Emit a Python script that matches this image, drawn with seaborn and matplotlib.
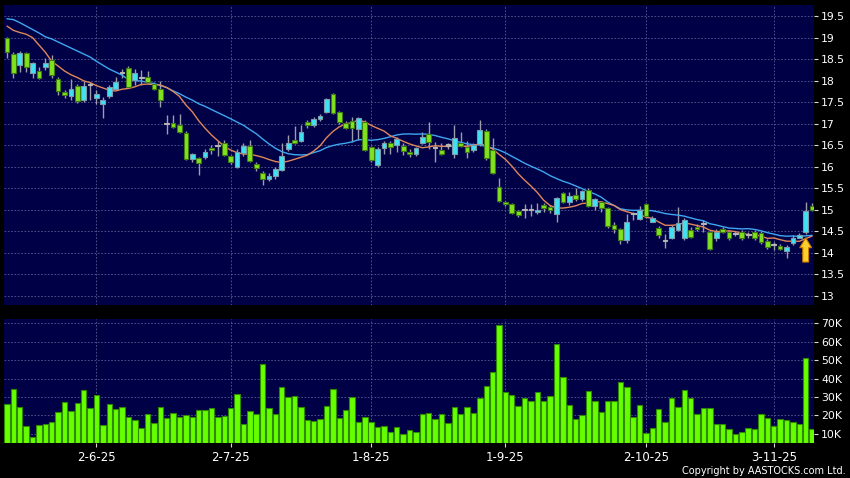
import numpy as np
import pandas as pd
import matplotlib
matplotlib.use("Agg")
import matplotlib.pyplot as plt
import seaborn as sns

# HK trading days shown on the chart
holidays = ["2025-07-01", "2025-10-01", "2025-10-07", "2025-10-29"]
dates = pd.bdate_range("2025-05-13", "2025-11-11", freq="C", holidays=holidays)

open_ = [19.00, 18.61, 18.36, 18.65, 18.17, 18.23, 18.32, 18.49, 18.03, 17.73,
         17.65, 17.88, 17.55, 17.90, 17.60, 17.45, 17.65, 17.80, 18.17, 18.30,
         18.01, 18.07, 18.09, 17.92, 17.80, 17.00, 17.01, 16.96, 16.79, 16.17,
         16.19, 16.22, 16.43, 16.47, 16.56, 16.25, 16.00, 16.31, 16.49, 16.05,
         15.86, 15.70, 15.78, 15.93, 16.40, 16.63, 16.60, 17.04, 16.97, 17.10,
         17.28, 17.70, 17.28, 17.01, 17.06, 16.87, 17.03, 16.45, 16.04, 16.43,
         16.55, 16.50, 16.49, 16.35, 16.29, 16.56, 16.75, 16.43, 16.39, 16.49,
         16.29, 16.56, 16.46, 16.39, 16.52, 16.83, 16.39, 15.53, 15.18, 15.12,
         14.97, 14.99, 14.99, 14.94, 15.11, 15.05, 14.90, 15.38, 15.18, 15.35,
         15.25, 15.46, 15.09, 15.17, 15.03, 14.64, 14.54, 14.29, 14.89, 14.78,
         15.12, 14.72, 14.57, 14.27, 14.35, 14.53, 14.33, 14.53, 14.60, 14.66,
         14.47, 14.33, 14.55, 14.47, 14.43, 14.47, 14.41, 14.47, 14.45, 14.28,
         14.18, 14.16, 14.04, 14.22, 14.35, 14.47, 15.09]
high = [19.02, 18.67, 18.69, 18.67, 18.44, 18.32, 18.52, 18.59, 18.09, 17.78,
        18.03, 17.93, 17.99, 17.97, 17.78, 17.62, 17.90, 18.09, 18.28, 18.35,
        18.28, 18.25, 18.23, 17.97, 17.99, 17.20, 17.20, 17.22, 16.84, 16.31,
        16.22, 16.40, 16.50, 16.59, 16.62, 16.27, 16.40, 16.55, 16.62, 16.10,
        15.90, 15.85, 15.98, 16.55, 16.74, 16.95, 16.97, 17.08, 17.15, 17.22,
        17.60, 17.72, 17.30, 17.05, 17.15, 17.15, 17.08, 16.48, 16.45, 16.60,
        16.60, 16.70, 16.55, 16.40, 16.46, 16.80, 17.03, 16.58, 16.54, 16.55,
        16.96, 16.80, 16.60, 16.55, 17.08, 16.87, 16.67, 15.73, 15.20, 15.15,
        15.00, 15.12, 15.12, 15.15, 15.15, 15.10, 15.30, 15.42, 15.40, 15.50,
        15.45, 15.51, 15.28, 15.20, 15.05, 14.70, 14.58, 14.89, 14.95, 15.08,
        15.15, 14.86, 14.62, 14.43, 14.65, 15.05, 14.80, 14.60, 14.66, 14.75,
        14.50, 14.55, 14.60, 14.52, 14.50, 14.52, 14.48, 14.52, 14.50, 14.32,
        14.25, 14.20, 14.18, 14.40, 14.45, 15.18, 15.15]
low = [18.52, 18.07, 18.21, 18.21, 18.05, 18.04, 18.25, 18.05, 17.66, 17.60,
       17.55, 17.47, 17.51, 17.55, 17.45, 17.14, 17.59, 17.78, 18.05, 17.84,
       17.90, 17.90, 17.95, 17.78, 17.38, 16.77, 16.90, 16.78, 16.15, 16.11,
       15.80, 16.18, 16.30, 16.25, 16.25, 16.05, 15.96, 16.25, 16.10, 15.90,
       15.57, 15.66, 15.72, 15.90, 16.36, 16.52, 16.57, 16.90, 16.92, 17.05,
       17.25, 17.22, 17.00, 16.88, 16.58, 16.62, 16.36, 16.10, 15.98, 16.30,
       16.30, 16.35, 16.28, 16.22, 16.25, 16.52, 16.40, 16.10, 16.27, 16.40,
       16.20, 16.46, 16.20, 16.35, 16.48, 16.15, 15.82, 15.18, 15.08, 14.90,
       14.83, 14.80, 14.85, 14.90, 14.95, 14.92, 14.72, 15.15, 15.10, 15.20,
       15.20, 15.05, 15.00, 14.95, 14.58, 14.45, 14.21, 14.22, 14.75, 14.75,
       14.80, 14.70, 14.33, 14.10, 14.32, 14.50, 14.30, 14.33, 14.50, 14.48,
       14.07, 14.28, 14.45, 14.30, 14.38, 14.30, 14.35, 14.30, 14.20, 14.08,
       14.05, 14.05, 13.87, 14.18, 14.33, 14.44, 14.97]
close = [18.67, 18.17, 18.65, 18.32, 18.40, 18.07, 18.40, 18.14, 17.76, 17.67,
         17.80, 17.52, 17.88, 17.90, 17.69, 17.55, 17.86, 17.96, 18.17, 17.86,
         18.17, 18.07, 17.97, 17.80, 17.55, 17.00, 16.93, 16.81, 16.17, 16.29,
         16.08, 16.33, 16.39, 16.47, 16.27, 16.11, 16.33, 16.49, 16.13, 15.96,
         15.70, 15.79, 15.94, 16.24, 16.56, 16.56, 16.80, 16.97, 17.10, 17.18,
         17.57, 17.25, 17.03, 16.90, 16.90, 17.12, 16.39, 16.15, 16.42, 16.55,
         16.46, 16.64, 16.36, 16.29, 16.43, 16.70, 16.58, 16.43, 16.29, 16.49,
         16.66, 16.49, 16.35, 16.50, 16.85, 16.19, 15.84, 15.20, 15.12, 14.93,
         14.88, 14.99, 14.99, 14.99, 15.03, 14.98, 15.26, 15.18, 15.32, 15.25,
         15.43, 15.09, 15.24, 15.03, 14.61, 14.55, 14.29, 14.70, 14.89, 14.99,
         14.84, 14.81, 14.40, 14.27, 14.60, 14.69, 14.76, 14.37, 14.55, 14.66,
         14.09, 14.49, 14.49, 14.35, 14.43, 14.33, 14.41, 14.35, 14.25, 14.12,
         14.18, 14.09, 14.14, 14.35, 14.40, 14.96, 14.99]
volume_k = [26.3, 34.6, 24.5, 14.2, 8.0, 14.7, 15.3, 16.5, 21.6, 27.2,
            22.3, 26.5, 33.9, 24.1, 31.0, 14.9, 26.1, 23.4, 24.8, 18.9,
            17.3, 13.3, 20.7, 16.0, 24.3, 18.7, 21.2, 19.2, 20.3, 19.2,
            23.0, 22.7, 23.8, 19.2, 19.6, 23.8, 31.7, 15.4, 22.3, 20.9,
            47.8, 23.9, 21.0, 35.3, 30.1, 30.6, 24.7, 17.4, 17.1, 18.0,
            25.0, 34.4, 18.7, 23.0, 30.1, 16.2, 19.1, 16.2, 13.8, 14.2,
            11.1, 13.5, 10.0, 12.2, 11.1, 20.7, 21.2, 17.8, 20.7, 16.0,
            24.5, 20.9, 24.7, 21.4, 29.5, 36.0, 43.5, 69.1, 32.8, 31.2,
            25.0, 29.4, 27.9, 32.6, 27.6, 30.6, 58.8, 40.9, 25.7, 18.0,
            20.1, 33.3, 28.1, 22.1, 27.6, 27.9, 38.0, 35.5, 18.9, 25.4,
            10.4, 13.3, 23.4, 16.2, 29.2, 24.3, 33.7, 29.4, 20.9, 24.1,
            24.1, 15.1, 15.4, 12.4, 9.8, 10.9, 13.1, 12.6, 20.7, 18.5,
            14.0, 18.3, 17.4, 16.2, 15.1, 51.0, 12.6]

# moving averages at the left edge (they start before the first shown bar)
ma10_head = [19.27, 19.17, 19.12, 19.08, 19.00, 18.83, 18.66, 18.45, 18.34]
ma20_head = [19.44, 19.42, 19.35, 19.27, 19.19, 19.11, 19.02, 18.97, 18.90, 18.83,
             18.76, 18.69, 18.62, 18.55, 18.45, 18.36, 18.27, 18.20, 18.13]
signal_date = "2025-11-10"

df = pd.DataFrame({"date": dates, "open": open_, "high": high, "low": low,
                   "close": close, "volume_k": volume_k})
df["x"] = np.arange(len(df))
ma10 = df["close"].rolling(10).mean().to_numpy()
ma10[:9] = ma10_head
ma20 = df["close"].rolling(20).mean().to_numpy()
ma20[:19] = ma20_head

sns.set_style("dark", {"axes.facecolor": "#000046", "figure.facecolor": "black"})
plt.rcParams["font.family"] = ["DejaVu Sans"]

fig = plt.figure(figsize=(8.5, 4.78), dpi=100)
fig.patch.set_facecolor("black")
ax_p = fig.add_axes([4 / 850, 173 / 478, 810 / 850, 300 / 478])
ax_v = fig.add_axes([4 / 850, 35 / 478, 810 / 850, 124 / 478])

grid_kw = dict(color="#5a5a94", ls=(0, (2, 2)), lw=0.6)
month_start = [i for i in range(1, len(df)) if df.date[i].month != df.date[i - 1].month]
month_lbl = [f"{df.date[i].day}-{df.date[i].month}-{df.date[i].year % 100}" for i in month_start]

# price panel
sns.lineplot(x=df["x"], y=ma20, ax=ax_p, color="#3fa6f0", lw=1.0, zorder=2.5)
sns.lineplot(x=df["x"], y=ma10, ax=ax_p, color="#e0875a", lw=1.0, zorder=2.6)
ax_p.vlines(df["x"], df["low"], df["high"], color="#9c9caa", lw=1, zorder=2)
up = df["close"] > df["open"]
down = df["close"] < df["open"]
flat = ~(up | down)
body = (df["close"] - df["open"]).abs().clip(lower=0.025)
bottom = df[["open", "close"]].min(axis=1)
for mask, fc, ec in [(up, "#40e2f2", "#7c9cac"), (down, "#80e21e", "#3e7c12"),
                     (flat, "#b4b4b4", "#b4b4b4")]:
    ax_p.bar(df["x"][mask], body[mask], bottom=bottom[mask], width=0.74,
             color=fc, edgecolor=ec, lw=0.8, zorder=3)

sig = df.index[df["date"] == pd.Timestamp(signal_date)][0]
tip = df["low"][sig] - 0.1
ax_p.annotate("", xy=(sig, tip), xytext=(sig, tip - 0.56),
              arrowprops=dict(arrowstyle="simple,head_length=0.7,head_width=0.85,tail_width=0.42",
                              fc="#ffd02a", ec="#c87a00", lw=0.8, mutation_scale=10,
                              shrinkA=0, shrinkB=0), zorder=5)

ax_p.set_xlim(-0.47, 126.3)
ax_p.set_ylim(12.78, 19.76)
yt = np.arange(13, 19.51, 0.5)
ax_p.set_yticks(yt)
ax_p.set_yticklabels([f"{v:g}" for v in yt])
ax_p.set_xticks(month_start)
ax_p.grid(True, **grid_kw)
ax_p.yaxis.tick_right()
ax_p.tick_params(axis="y", colors="#d8d8d8", labelcolor="white", labelsize=7.8,
                 length=3, width=0.8, pad=2)
ax_p.tick_params(axis="x", length=0, labelbottom=False)
ax_p.set_xlabel("")
ax_p.set_ylabel("")

# volume panel
sns.barplot(x=df["x"], y=df["volume_k"], ax=ax_v, native_scale=True, errorbar=None,
            color="#66ff00", edgecolor="#2f8a00", linewidth=0.8, saturation=1, width=0.85)
ax_v.set_xlim(-0.47, 126.3)
ax_v.set_ylim(5, 72.4)
vt = np.arange(10, 71, 10)
ax_v.set_yticks(vt)
ax_v.set_yticklabels([f"{v}K" for v in vt])
ax_v.set_xticks(month_start)
ax_v.set_xticklabels(month_lbl)
ax_v.grid(True, **grid_kw)
ax_v.yaxis.tick_right()
ax_v.tick_params(axis="y", colors="#d8d8d8", labelcolor="white", labelsize=7.8,
                 length=3, width=0.8, pad=2)
ax_v.tick_params(axis="x", colors="#d8d8d8", labelcolor="white", labelsize=8.5,
                 length=3, width=0.8, pad=3, bottom=True)
ax_v.set_xlabel("")
ax_v.set_ylabel("")

for ax in (ax_p, ax_v):
    for s in ax.spines.values():
        s.set_visible(False)

fig.text(846 / 850, 1 - 471.5 / 478, "Copyright by AASTOCKS.com Ltd.", ha="right",
         va="center", color="white", fontsize=7)

fig.savefig("out.png", dpi=100, facecolor="black")
